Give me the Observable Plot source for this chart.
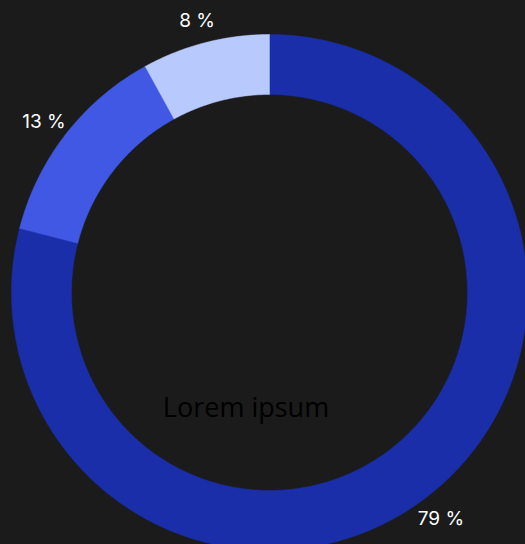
<!DOCTYPE html>
<html><head><meta charset="utf-8">
<script src="https://cdn.jsdelivr.net/npm/d3@7"></script>
<script src="https://cdn.jsdelivr.net/npm/@observablehq/plot@0.6"></script>
<style>
html,body{margin:0;padding:0;background:#1b1b1b;overflow:hidden;}
</style></head>
<body><div id="chart"></div>
<script>
const categories = ["A", "B", "C"];
const values = [79, 13, 8];
const labels = ["79 %", "13 %", "8 %"];
const colors = ["#1b2ea9", "#4158e4", "#b8c9fd"];
const centerText = "Lorem ipsum";

const W = 525, H = 544;
const cx = 269, cy = 292;
const rOuter = 258, rInner = 198, rLabel = 283;

const total = d3.sum(values);
let acc = 0;
const slices = categories.map((c, i) => {
  const a0 = acc / total * 2 * Math.PI;
  acc += values[i];
  const a1 = acc / total * 2 * Math.PI;
  return {c, i, a0, a1, mid: (a0 + a1) / 2, label: labels[i], color: colors[i]};
});

function ring(s) {
  const n = Math.max(8, Math.ceil((s.a1 - s.a0) / 0.01));
  const pts = [];
  for (let k = 0; k <= n; k++) {
    const a = s.a0 + (s.a1 - s.a0) * k / n;
    pts.push({x: rOuter * Math.sin(a), y: -rOuter * Math.cos(a)});
  }
  for (let k = n; k >= 0; k--) {
    const a = s.a0 + (s.a1 - s.a0) * k / n;
    pts.push({x: rInner * Math.sin(a), y: -rInner * Math.cos(a)});
  }
  pts.push(pts[0]);
  return pts;
}

const labelPts = slices.map(s => ({x: rLabel * Math.sin(s.mid), y: -rLabel * Math.cos(s.mid), label: s.label}));

const chart = Plot.plot({
  width: W, height: H,
  margin: 0,
  style: {background: "#1b1b1b"},
  x: {domain: [-cx, W - cx], axis: null},
  y: {domain: [H - cy, -cy], axis: null},
  marks: [
    ...slices.map(s => Plot.line(ring(s), {x: "x", y: "y", fill: s.color, stroke: s.color, strokeWidth: 0.5})),
    Plot.text(labelPts, {x: "x", y: "y", dx: -2, dy: 3, text: "label", fill: "#ffffff", fontSize: 19, fontFamily: "Inter", fontWeight: 400}),
    Plot.text([centerText], {frameAnchor: "middle", dx: -17, dy: 136, text: d => d, fill: "#000000", fontSize: 27, fontFamily: "Open Sans"})
  ]
});
document.getElementById("chart").appendChild(chart);
</script></body></html>
